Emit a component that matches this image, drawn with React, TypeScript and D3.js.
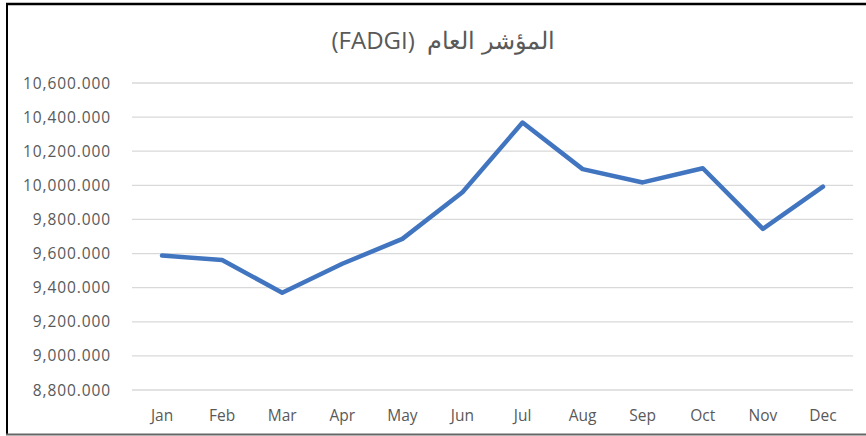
import React from "react";
import * as d3 from "d3";

const months = ["Jan", "Feb", "Mar", "Apr", "May", "Jun", "Jul", "Aug", "Sep", "Oct", "Nov", "Dec"];
const values = [9588, 9562, 9370, 9540, 9686, 9960, 10368, 10095, 10017, 10100, 9745, 9992];
const yTicks = [8800, 9000, 9200, 9400, 9600, 9800, 10000, 10200, 10400, 10600];
const title = "(FADGI)  المؤشر العام";

const W = 866;
const H = 436;
const plotLeft = 132;
const plotRight = 853;
const plotTop = 83;
const plotBottom = 390;

export default function App() {
  const x = d3.scaleBand<string>().domain(months).range([plotLeft, plotRight]);
  const y = d3.scaleLinear().domain([8800, 10600]).range([plotBottom, plotTop]);
  const line = d3
    .line<number>()
    .x((_, i) => (x(months[i]) as number) + x.bandwidth() / 2)
    .y((d) => y(d));
  const fmt = d3.format(",.3f");
  const font = "'Open Sans', 'Liberation Sans', sans-serif";

  return (
    <svg
      width={W}
      height={H}
      style={{ position: "absolute", left: 0, top: 0, background: "#fff" }}
    >
      <rect x={0} y={0} width={W} height={H} fill="#fff" />
      {/* frame */}
      <line x1={6} x2={W} y1={4} y2={4} stroke="#000" strokeWidth={2.5} />
      <line x1={7} x2={7} y1={3} y2={435} stroke="#000" strokeWidth={2} />
      <line x1={6} x2={W} y1={434.5} y2={434.5} stroke="#666" strokeWidth={2} />

      <text
        x={443}
        y={49}
        textAnchor="middle"
        fontFamily={font}
        fontSize={24}
        fill="#595959"
        direction="ltr"
        style={{ whiteSpace: "pre" }}
      >
        {title}
      </text>

      {yTicks.map((t) => (
        <g key={t}>
          <line
            x1={plotLeft}
            x2={plotRight}
            y1={y(t)}
            y2={y(t)}
            stroke="#d9d9d9"
            strokeWidth={1.3}
          />
          <text
            x={111}
            y={y(t)}
            dy="0.36em"
            textAnchor="end"
            fontFamily={font}
            fontSize={15.5}
            letterSpacing={0.9}
            fill="#595959"
          >
            {fmt(t)}
          </text>
        </g>
      ))}

      {months.map((m) => (
        <text
          key={m}
          x={(x(m) as number) + x.bandwidth() / 2}
          y={421}
          textAnchor="middle"
          fontFamily={font}
          fontSize={15.5}
          fill="#595959"
        >
          {m}
        </text>
      ))}

      <path
        d={line(values) || ""}
        fill="none"
        stroke="#4175C0"
        strokeWidth={4.5}
        strokeLinejoin="round"
        strokeLinecap="round"
      />
    </svg>
  );
}
